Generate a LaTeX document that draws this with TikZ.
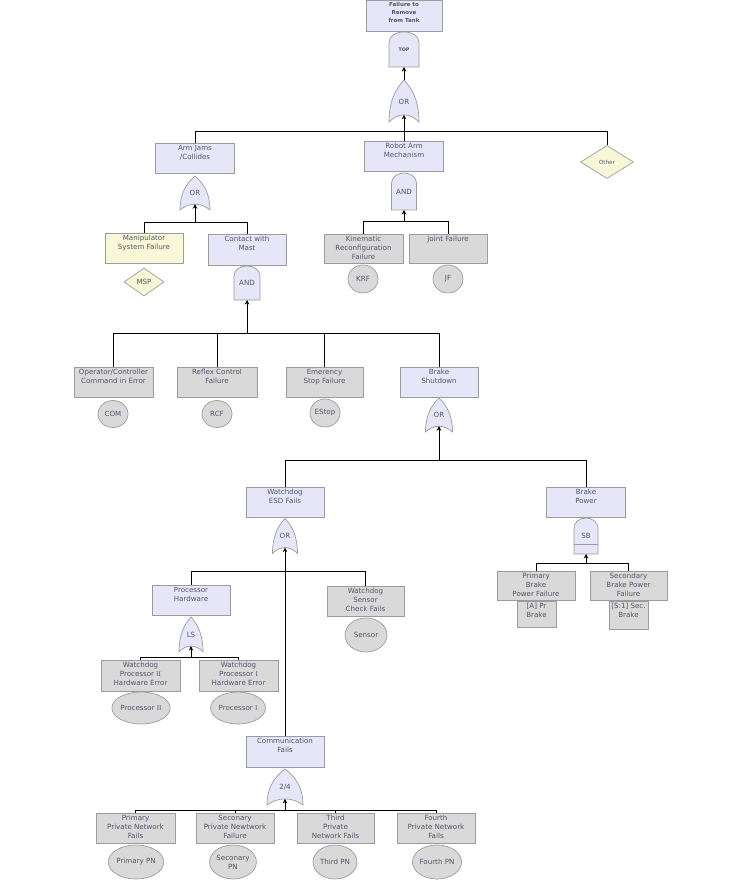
\documentclass[tikz,border=0pt]{standalone}
\usepackage{fontspec}
\setmainfont{DejaVu Sans}
\newfontfamily\serifnum{Liberation Serif}
\usetikzlibrary{shapes.geometric,arrows.meta,calc}
\definecolor{lav}{HTML}{E6E6F8}
\definecolor{evgray}{HTML}{D9D9D9}
\definecolor{yel}{HTML}{F8F8D8}
\definecolor{txt}{HTML}{55556A}
\definecolor{edge}{HTML}{9C9C9C}
\tikzset{
  evbox/.style={rectangle, draw=edge, line width=0.7pt, inner sep=0pt, text=txt,
    font=\fontsize{7.1}{9}\selectfont},
  bev/.style={ellipse, draw=edge, line width=0.7pt, fill=evgray, inner sep=0pt, text=txt,
    align=center, font=\fontsize{7.1}{9}\selectfont},
  dia/.style={diamond, draw=edge, line width=0.7pt, fill=yel, inner sep=0pt, text=txt,
    font=\fontsize{7.1}{9}\selectfont},
  gate/.style={draw=edge, line width=0.7pt, fill=lav},
  gatetext/.style={inner sep=0pt, text=txt, font=\fontsize{7.1}{9}\selectfont},
  conn/.style={draw=black, line width=0.9pt},
  arr/.style={draw=black, line width=0.9pt, -{Stealth[length=4.5pt,width=4.5pt]}}
}
% event box: name, cx, cy, w, h, fill, text
\newcommand\evt[7]{\node[evbox,fill=#6] (#1) at (#2,#3) {\parbox[c][#5pt][t]{#4pt}{\centering\rule{0pt}{7.5pt}#7\par}};}
% OR gate: name, cx, cy, half width, half height, text
\newcommand\orG[6]{%
\begin{scope}[shift={(#2,#3)}]
\draw[gate] (0,-#5) .. controls ({0.6*#4},{-0.55*#5}) and (#4,{0.05*#5}) .. (#4,#5)
  .. controls ({0.4*#4},{0.55*#5}) and ({-0.4*#4},{0.55*#5}) .. (-#4,#5)
  .. controls (-#4,{0.05*#5}) and ({-0.6*#4},{-0.55*#5}) .. (0,-#5) -- cycle;
\node[gatetext] (#1) at (0,{0.02*#5}) {#6};
\coordinate (#1-in) at (0,{0.66*#5});
\coordinate (#1-out) at (0,-#5);
\end{scope}}
% AND gate: name, cx, cy, half width, half height, text
\newcommand\andG[6]{%
\begin{scope}[shift={(#2,#3)}]
\draw[gate] (-#4,#5) -- (-#4,{-0.4*#5}) .. controls (-#4,{-1.2*#5}) and (#4,{-1.2*#5}) .. (#4,{-0.4*#5}) -- (#4,#5) -- cycle;
\node[gatetext] (#1) at (0,{0.02*#5}) {#6};
\coordinate (#1-in) at (0,#5);
\coordinate (#1-out) at (0,-#5);
\end{scope}}
\begin{document}
\begin{tikzpicture}[x=1pt,y=-1pt]
\useasboundingbox (0,0) rectangle (743,882);
% ---------- top ----------
\node[evbox,fill=lav] (tb) at (404,15.5) {\parbox[c][31pt][t]{76pt}{\centering\bfseries\fontsize{5.5}{8}\selectfont\rule{0pt}{7pt}Failure to\\Remove\\from Tank\par}};
\andG{tg}{404}{49.5}{15}{17.5}{\bfseries\fontsize{4.8}{6}\selectfont TOP}
\orG{g0}{404}{101}{15}{21}{OR}
\draw[arr] (g0-out) -- (tg-in);
% ---------- level 1 ----------
\evt{aj}{195}{158}{79}{30}{lav}{Arm Jams\\/Collides}
\evt{ram}{404}{156}{79}{30}{lav}{Robot Arm\\Mechanism}
\node[dia, minimum width=53, minimum height=33, font=\fontsize{5.6}{7}\selectfont] (oth) at (607,162) {Other};
\coordinate (b0) at (0,131);
\draw[arr] (g0-in |- b0) -- (g0-in);
\draw[conn] (aj.north) |- (g0-in |- b0);
\draw[conn] (ram.north) -- (ram.north |- b0);
\draw[conn] (oth.north) |- (g0-in |- b0);
% ---------- arm jams branch ----------
\orG{g1}{195}{193}{15}{17}{OR}
\evt{msf}{144}{248}{78}{30}{yel}{Manipulator\\System Failure}
\evt{cwm}{247}{249.5}{78}{31}{lav}{Contact with\\Mast}
\node[dia, minimum width=40, minimum height=28] (msp) at (144,282) {MSP};
\coordinate (b1) at (0,222);
\draw[arr] (g1-in |- b1) -- (g1-in);
\draw[conn] (msf.north) |- (g1-in |- b1);
\draw[conn] (cwm.north) |- (g1-in |- b1);
% ---------- robot arm branch ----------
\andG{g2}{404}{191.5}{12.5}{18.5}{AND}
\evt{krf}{363.5}{248.5}{79}{29}{evgray}{Kinematic\\Reconfiguration\\Failure}
\evt{jf}{448}{248.5}{78}{29}{evgray}{Joint Failure}
\node[bev, minimum width=30, minimum height=28] (krfc) at (363,279) {KRF};
\node[bev, minimum width=30, minimum height=28] (jfc) at (448,279) {JF};
\coordinate (b2) at (0,221);
\draw[arr] (g2-in |- b2) -- (g2-in);
\draw[conn] (krf.north) |- (g2-in |- b2);
\draw[conn] (jf.north) |- (g2-in |- b2);
% ---------- contact with mast branch ----------
\andG{g3}{247}{283}{13}{17}{AND}
\evt{op}{113.5}{382}{79}{30}{evgray}{Operator/Controller\\Command in Error}
\evt{rcf}{217}{382}{80}{30}{evgray}{Reflex Control\\Failure}
\evt{es}{324.5}{382}{77}{30}{evgray}{Emerency\\Stop Failure}
\evt{bs}{439}{382}{78}{30}{lav}{Brake\\Shutdown}
\node[bev, minimum width=30, minimum height=27] (comc) at (113,414) {COM};
\node[bev, minimum width=30, minimum height=27] (rcfc) at (217,414) {RCF};
\node[bev, minimum width=30, minimum height=28] (esc) at (325,413) {EStop};
\coordinate (b3) at (0,333);
\draw[arr] (g3-in |- b3) -- (g3-in);
\draw[conn] (op.north) |- (g3-in |- b3);
\draw[conn] (rcf.north) |- (g3-in |- b3);
\draw[conn] (es.north) |- (g3-in |- b3);
\draw[conn] (bs.north) |- (g3-in |- b3);
% ---------- brake shutdown branch ----------
\orG{g4}{439}{415}{13.5}{17}{OR}
\evt{wesd}{285}{502}{78}{30}{lav}{Watchdog\\ESD Fails}
\evt{bp}{586}{502}{79}{30}{lav}{Brake\\Power}
\coordinate (b4) at (0,460);
\draw[arr] (g4-in |- b4) -- (g4-in);
\draw[conn] (wesd.north) |- (g4-in |- b4);
\draw[conn] (bp.north) |- (g4-in |- b4);
% ---------- watchdog ESD branch ----------
\orG{g5}{285}{536}{12.5}{17.5}{OR}
\evt{ph}{191}{600}{78}{30}{lav}{Processor\\Hardware}
\evt{sen}{365.5}{601}{77}{30}{evgray}{Watchdog\\Sensor\\Check Fails}
\node[bev, minimum width=42, minimum height=34] (senc) at (366,635) {Sensor};
\evt{comm}{285}{751.5}{78}{31}{lav}{Communication\\Fails}
\coordinate (b5) at (0,571);
\draw[arr] (g5-in |- b5) -- (g5-in);
\draw[conn] (ph.north) |- (g5-in |- b5);
\draw[conn] (sen.north) |- (g5-in |- b5);
\draw[conn] (comm.north) -- (comm.north |- b5);
% ---------- brake power branch ----------
\andG{g6}{586}{536}{12}{18}{SB}
\draw[gate, fill=none] (574,544) -- (598,544);
\evt{pb}{536}{585.5}{78}{29}{evgray}{Primary\\Brake\\Power Failure}
\evt{sb}{628.5}{585.5}{77}{29}{evgray}{Secondary\\Brake Power\\Failure}
\evt{pbt}{536.5}{614}{39}{26}{evgray}{[A] Pr\\Brake}
\evt{sbt}{628.5}{615}{39}{28}{evgray}{[S:1] Sec.\\Brake}
\coordinate (b6) at (0,563);
\draw[arr] (g6-in |- b6) -- (g6-in);
\draw[conn] (pb.north) |- (g6-in |- b6);
\draw[conn] (sb.north) |- (g6-in |- b6);
% ---------- processor hardware branch ----------
\orG{g7}{191}{634.5}{12}{17.5}{LS}
\evt{ptwo}{140.5}{675.5}{79}{31}{evgray}{Watchdog\\Processor {\serifnum II}\\Hardware Error}
\evt{pone}{238.5}{675.5}{79}{31}{evgray}{Watchdog\\Processor {\serifnum I}\\Hardware Error}
\node[bev, minimum width=46, minimum height=32] (ptwoc) at (141,708) {Processor {\serifnum II}};
\node[bev, minimum width=46, minimum height=32] (ponec) at (238,708) {Processor {\serifnum I}};
\coordinate (b7) at (0,657);
\draw[arr] (g7-in |- b7) -- (g7-in);
\draw[conn] (ptwo.north) |- (g7-in |- b7);
\draw[conn] (pone.north) |- (g7-in |- b7);
% ---------- communication branch ----------
\orG{g8}{285}{787}{18}{18}{2/4}
\evt{pp}{135.5}{828}{79}{30}{evgray}{Primary\\Private Network\\Fails}
\evt{sp}{235}{828}{78}{30}{evgray}{Seconary\\Private Newtwork\\Failure}
\evt{tp}{335.5}{828}{77}{30}{evgray}{Third\\Private\\Network Fails}
\evt{fp}{436}{828}{78}{30}{evgray}{Fourth\\Private Network\\Fails}
\node[bev, minimum width=44, minimum height=34] (ppc) at (136,862) {Primary PN};
\node[bev, minimum width=44, minimum height=34] (spc) at (233,862) {Seconary\\PN};
\node[bev, minimum width=44, minimum height=34] (tpc) at (335,862) {Third PN};
\node[bev, minimum width=44, minimum height=34] (fpc) at (437,862) {Fourth PN};
\coordinate (b8) at (0,810);
\draw[arr] (g8-in |- b8) -- (g8-in);
\draw[conn] (pp.north) |- (g8-in |- b8);
\draw[conn] (sp.north) |- (g8-in |- b8);
\draw[conn] (tp.north) |- (g8-in |- b8);
\draw[conn] (fp.north) |- (g8-in |- b8);
\end{tikzpicture}
\end{document}
